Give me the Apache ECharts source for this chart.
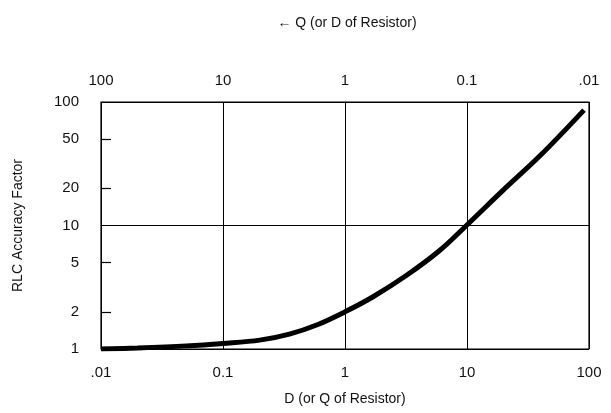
<!DOCTYPE html>
<html>
<head>
<meta charset="utf-8">
<script src="https://cdn.jsdelivr.net/npm/echarts@6/dist/echarts.min.js"></script>
<style>
  html, body { margin: 0; padding: 0; background: #fff; }
  #chart { width: 611px; height: 413px; }
</style>
</head>
<body>
<div id="chart"></div>
<script>
// D (bottom axis) vs RLC accuracy factor
const dValues = [0.01, 0.02, 0.05, 0.1, 0.2, 0.35, 0.6, 1, 1.7, 3.2, 6, 10, 20, 40, 91];
const factorValues = [1.0, 1.02, 1.06, 1.11, 1.18, 1.32, 1.58, 2.0, 2.65, 3.95, 6.3, 10.1, 19.5, 37, 86];
// tick labels
const bottomLabels = ['.01', '0.1', '1', '10', '100'];
const topLabels = ['100', '10', '1', '0.1', '.01'];
const yTickValues = [1, 2, 5, 10, 20, 50, 100];
const yMinorTicks = [2, 5, 20, 50];

const font = 'Liberation Sans, Arial, sans-serif';
const txt = '#111';

// decade index 0..4 for 0.01..100
function decade(v) {
    return Math.round(Math.log10(v)) + 2;
}

const chart = echarts.init(document.getElementById('chart'));
const option = {
    animation: false,
    backgroundColor: '#fff',
    title: {
        text: '← Q (or D of Resistor)',
        left: 342,
        top: 11,
        textAlign: 'center',
        textStyle: { fontFamily: font, fontSize: 14, fontWeight: 'normal', color: txt }
    },
    grid: {
        left: 101,
        right: 22,
        top: 102,
        bottom: 64,
        show: true,
        borderColor: '#000',
        borderWidth: 1.2
    },
    xAxis: [
        {
            type: 'log',
            logBase: 10,
            min: 0.01,
            max: 100,
            position: 'bottom',
            name: 'D (or Q of Resistor)',
            nameLocation: 'middle',
            nameGap: 43,
            nameTextStyle: { fontFamily: font, fontSize: 14, color: txt },
            axisLine: { show: false },
            axisTick: { show: false },
            axisLabel: {
                margin: 16,
                fontFamily: font,
                fontSize: 15,
                color: txt,
                formatter: v => bottomLabels[decade(v)]
            },
            splitLine: { show: true, lineStyle: { color: '#000', width: 1 } }
        },
        {
            type: 'log',
            logBase: 10,
            min: 0.01,
            max: 100,
            position: 'top',
            axisLine: { show: false },
            axisTick: { show: false },
            axisLabel: {
                margin: 14,
                fontFamily: font,
                fontSize: 15,
                color: txt,
                formatter: v => topLabels[decade(v)]
            },
            splitLine: { show: false }
        }
    ],
    yAxis: [
        {
            type: 'log',
            logBase: 10,
            min: 1,
            max: 100,
            name: 'RLC Accuracy Factor',
            nameLocation: 'middle',
            nameGap: 76,
            nameRotate: 90,
            nameTextStyle: { fontFamily: font, fontSize: 14, color: txt },
            axisLine: { show: false },
            axisTick: { show: false },
            axisLabel: { show: false },
            splitLine: { show: true, lineStyle: { color: '#000', width: 1 } }
        },
        {
            // log10 space, only for the 1-2-5 labels and minor ticks
            type: 'value',
            min: 0,
            max: 2,
            position: 'left',
            axisLine: { show: false },
            axisTick: {
                show: true,
                inside: true,
                length: 10,
                lineStyle: { color: '#000', width: 1.2 },
                customValues: yMinorTicks.map(Math.log10)
            },
            axisLabel: {
                margin: 22,
                fontFamily: font,
                fontSize: 15,
                color: txt,
                customValues: yTickValues.map(Math.log10),
                formatter: v => String(Math.round(Math.pow(10, v)))
            },
            splitLine: { show: false }
        }
    ],
    series: [
        {
            type: 'line',
            xAxisIndex: 0,
            yAxisIndex: 0,
            smooth: 0.35,
            symbol: 'none',
            lineStyle: { color: '#000', width: 5 },
            data: dValues.map((d, i) => [d, factorValues[i]])
        }
    ]
};
chart.setOption(option);
</script>
</body>
</html>
